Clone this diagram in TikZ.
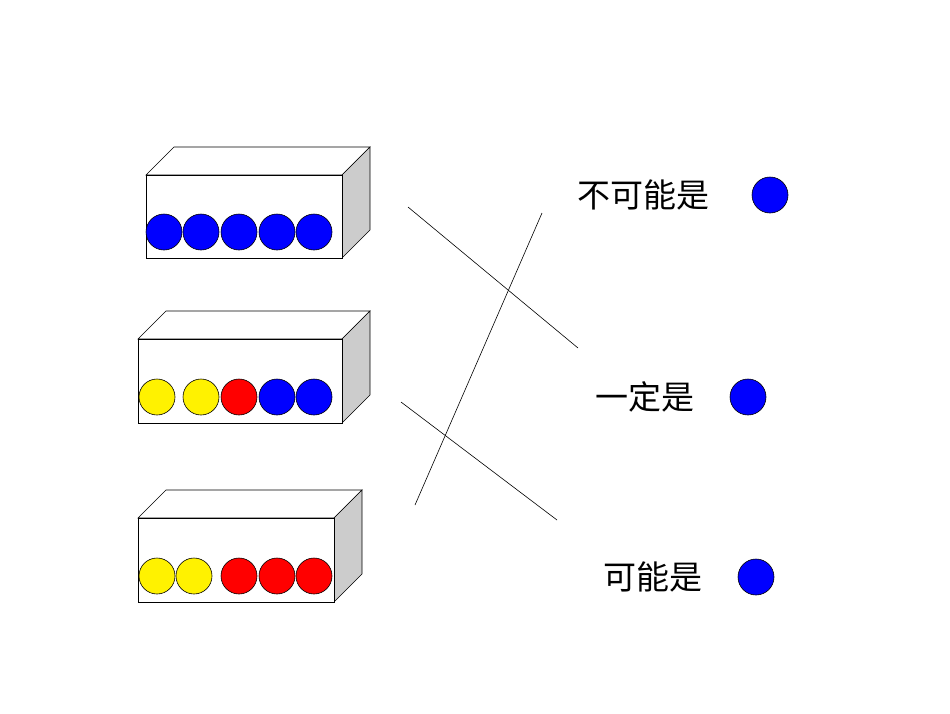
\documentclass[tikz,border=0pt]{standalone}
\usepackage{fontspec}
\newfontfamily\cjk{Noto Sans CJK SC}
\begin{document}
\begin{tikzpicture}[x=1pt,y=-1pt,
 box/.style={draw=black,fill=white,line width=0.6pt},
 side/.style={draw=black,fill=black!20,line width=0.6pt},
 ball/.style={circle,draw=black,line width=0.6pt,minimum size=36pt,inner sep=0pt},
 lbl/.style={font=\cjk\fontsize{33}{36}\selectfont,inner sep=0pt},
 conn/.style={draw=black,line width=0.6pt}]
\useasboundingbox (0,0) rectangle (950,713);
% box 1
\draw[box] (146,175) -- (174,147) -- (370,147) -- (342,175) -- cycle;
\draw[side] (342,175) -- (370,147) -- (370,230) -- (342,258) -- cycle;
\draw[box] (146,175) rectangle (342,258);
\foreach \x/\n in {164/a,201/b,239/c,277/d,314/e} \node[ball,fill=blue] (b1\n) at (\x,232) {};
% box 2
\draw[box] (138,339) -- (166,311) -- (370,311) -- (342,339) -- cycle;
\draw[side] (342,339) -- (370,311) -- (370,395) -- (342,423) -- cycle;
\draw[box] (138,339) rectangle (342,423);
\foreach \x/\c/\n in {157/yellow/a,201/yellow/b,239/red/c,277/blue/d,314/blue/e} \node[ball,fill=\c] (b2\n) at (\x,397) {};
% box 3
\draw[box] (138,518) -- (166,490) -- (362,490) -- (334,518) -- cycle;
\draw[side] (334,518) -- (362,490) -- (362,574) -- (334,602) -- cycle;
\draw[box] (138,518) rectangle (334,602);
\foreach \x/\c/\n in {157/yellow/a,194/yellow/b,239/red/c,277/red/d,314/red/e} \node[ball,fill=\c] (b3\n) at (\x,576) {};
% labels
\node[lbl] (t1) at (643,195) {不可能是};
\node[ball,fill=blue] (r1) at (770,195) {};
\node[lbl] (t2) at (645,397) {一定是};
\node[ball,fill=blue] (r2) at (748,397) {};
\node[lbl] (t3) at (653,577) {可能是};
\node[ball,fill=blue] (r3) at (756,577) {};
% connectors
\coordinate (s1) at (408,207); \coordinate (e1) at (578,348);
\coordinate (s2) at (415,505); \coordinate (e2) at (542,213);
\coordinate (s3) at (401,402); \coordinate (e3) at (557,520);
\draw[conn] (s1) -- (e1);
\draw[conn] (s2) -- (e2);
\draw[conn] (s3) -- (e3);
\end{tikzpicture}
\end{document}
